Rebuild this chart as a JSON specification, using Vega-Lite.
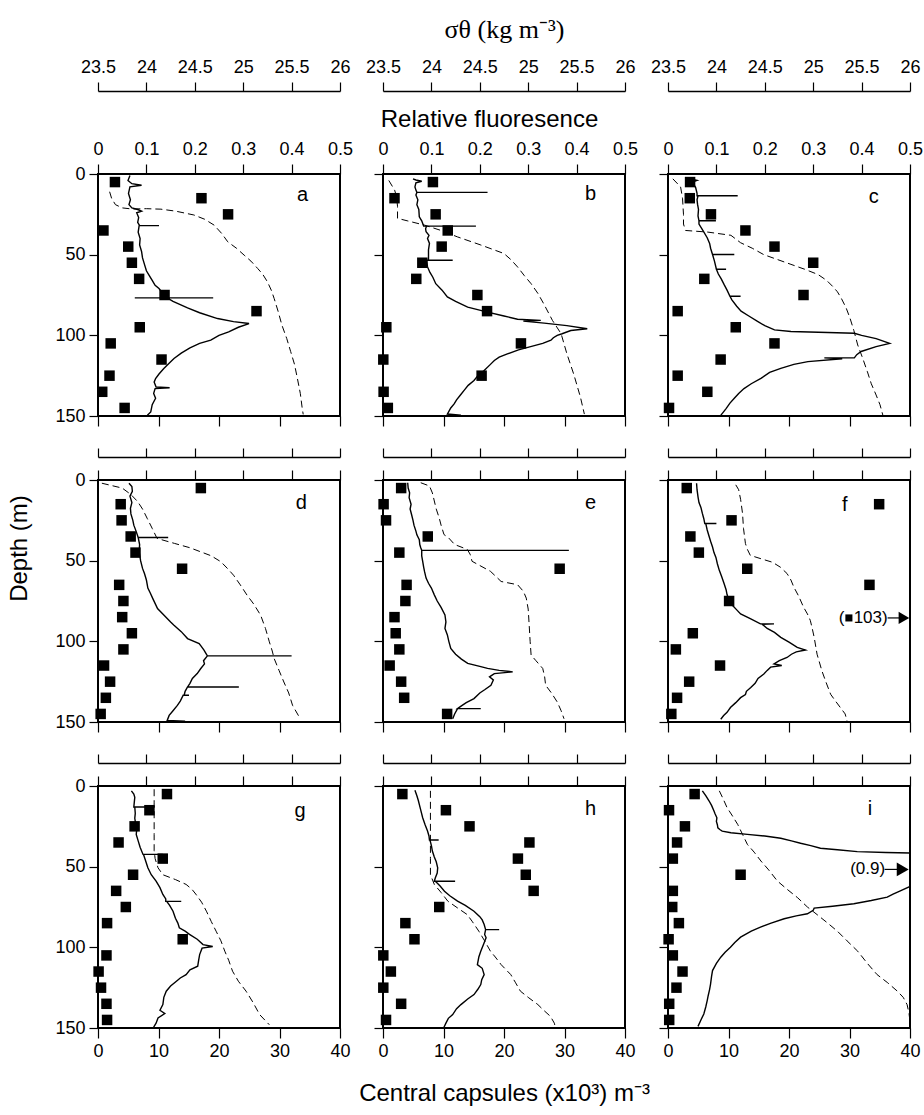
{
"$schema":"https://vega.github.io/schema/vega-lite/v6.json",
"padding":{"left":6,"top":15,"right":0,"bottom":0},
"background":"white",
"config":{
 "view":{"stroke":"black","strokeWidth":2},
 "axis":{"grid":false,"tickColor":"black","domainColor":"black","labelColor":"black","labelFont":"Liberation Sans","labelFontSize":18,"tickWidth":1.2,"labelPadding":4,"titleFont":"Liberation Sans","titleFontSize":24,"titleFontWeight":"normal","titleColor":"black","labelOverlap":false,"labelFlush":false},
 "text":{"font":"Liberation Sans","color":"black"}
},
"datasets":{
"cp_a":[{"d":5,"c":2.8},{"d":15,"c":17.1},{"d":25,"c":21.5},{"d":35,"c":0.9},{"d":45,"c":5.0},{"d":55,"c":5.6},{"d":65,"c":6.8},{"d":75,"c":11.0},{"d":85,"c":26.2},{"d":95,"c":6.9},{"d":105,"c":2.1},{"d":115,"c":10.5},{"d":125,"c":1.9},{"d":135,"c":0.7},{"d":145,"c":4.4}],
"cp_b":[{"d":5,"c":8.25},{"d":15,"c":1.9},{"d":25,"c":8.7},{"d":35,"c":10.7},{"d":45,"c":9.7},{"d":55,"c":6.5},{"d":65,"c":5.5},{"d":75,"c":15.6},{"d":85,"c":17.2},{"d":95,"c":0.55},{"d":105,"c":22.8},{"d":115,"c":0.05},{"d":125,"c":16.3},{"d":135,"c":0.1},{"d":145,"c":0.8}],
"cp_c":[{"d":5,"c":3.65},{"d":15,"c":3.6},{"d":25,"c":7.1},{"d":35,"c":12.8},{"d":45,"c":17.6},{"d":55,"c":24.0},{"d":65,"c":6.0},{"d":75,"c":22.4},{"d":85,"c":1.6},{"d":95,"c":11.2},{"d":105,"c":17.6},{"d":115,"c":8.7},{"d":125,"c":1.6},{"d":135,"c":6.5},{"d":145,"c":0.17}],
"cp_d":[{"d":5,"c":17.0},{"d":15,"c":3.75},{"d":25,"c":3.9},{"d":35,"c":5.4},{"d":45,"c":6.2},{"d":55,"c":13.9},{"d":65,"c":3.5},{"d":75,"c":4.2},{"d":85,"c":4.0},{"d":95,"c":5.6},{"d":105,"c":4.2},{"d":115,"c":1.0},{"d":125,"c":2.0},{"d":135,"c":1.3},{"d":145,"c":0.44}],
"cp_e":[{"d":5,"c":3.0},{"d":15,"c":0.1},{"d":25,"c":0.5},{"d":35,"c":7.4},{"d":45,"c":2.7},{"d":55,"c":29.2},{"d":65,"c":3.9},{"d":75,"c":3.7},{"d":85,"c":1.9},{"d":95,"c":2.1},{"d":105,"c":2.7},{"d":115,"c":1.1},{"d":125,"c":3.0},{"d":135,"c":3.5},{"d":145,"c":10.6}],
"cp_f":[{"d":5,"c":3.1},{"d":15,"c":34.9},{"d":25,"c":10.5},{"d":35,"c":3.7},{"d":45,"c":5.1},{"d":55,"c":13.1},{"d":65,"c":33.3},{"d":75,"c":10.1},{"d":95,"c":4.1},{"d":105,"c":1.3},{"d":115,"c":8.6},{"d":125,"c":3.5},{"d":135,"c":1.5},{"d":145,"c":0.55}],
"cp_g":[{"d":5,"c":11.4},{"d":15,"c":8.5},{"d":25,"c":6.05},{"d":35,"c":3.4},{"d":45,"c":10.7},{"d":55,"c":5.8},{"d":65,"c":3.0},{"d":75,"c":4.6},{"d":85,"c":1.5},{"d":95,"c":14.0},{"d":105,"c":1.4},{"d":115,"c":0.1},{"d":125,"c":0.5},{"d":135,"c":1.4},{"d":145,"c":1.5}],
"cp_h":[{"d":5,"c":3.2},{"d":15,"c":10.4},{"d":25,"c":14.3},{"d":35,"c":24.2},{"d":45,"c":22.3},{"d":55,"c":23.6},{"d":65,"c":24.9},{"d":75,"c":9.3},{"d":85,"c":3.7},{"d":95,"c":5.2},{"d":105,"c":0.05},{"d":115,"c":1.3},{"d":125,"c":0.05},{"d":135,"c":3.0},{"d":145,"c":0.5}],
"cp_i":[{"d":5,"c":4.4},{"d":15,"c":0.17},{"d":25,"c":2.8},{"d":35,"c":1.5},{"d":45,"c":0.8},{"d":55,"c":12.0},{"d":65,"c":0.8},{"d":75,"c":0.7},{"d":85,"c":1.8},{"d":95,"c":0.1},{"d":105,"c":0.8},{"d":115,"c":2.4},{"d":125,"c":1.4},{"d":135,"c":0.2},{"d":145,"c":0.2}],
"fl_a":[{"d":1,"f":0.066},{"d":4,"f":0.062},{"d":6,"f":0.07},{"d":7,"f":0.09},{"d":8,"f":0.066},{"d":12,"f":0.063},{"d":16,"f":0.067},{"d":19,"f":0.064},{"d":21,"f":0.07},{"d":22,"f":0.082},{"d":23,"f":0.09},{"d":24,"f":0.08},{"d":27,"f":0.084},{"d":30,"f":0.082},{"d":32,"f":0.086},{"d":32,"f":0.126},{"d":32,"f":0.085},{"d":36,"f":0.083},{"d":40,"f":0.087},{"d":44,"f":0.086},{"d":48,"f":0.09},{"d":52,"f":0.092},{"d":56,"f":0.096},{"d":60,"f":0.1},{"d":63,"f":0.106},{"d":66,"f":0.112},{"d":69,"f":0.118},{"d":71,"f":0.126},{"d":74,"f":0.134},{"d":76.8,"f":0.14},{"d":76.8,"f":0.238},{"d":76.8,"f":0.076},{"d":76.8,"f":0.143},{"d":79,"f":0.155},{"d":83,"f":0.185},{"d":86,"f":0.21},{"d":89.6,"f":0.247},{"d":91.5,"f":0.28},{"d":92.7,"f":0.312},{"d":95,"f":0.29},{"d":97.9,"f":0.27},{"d":100,"f":0.25},{"d":103,"f":0.233},{"d":105,"f":0.21},{"d":107.8,"f":0.19},{"d":111,"f":0.172},{"d":114.4,"f":0.157},{"d":117,"f":0.148},{"d":120.6,"f":0.136},{"d":124,"f":0.126},{"d":126.8,"f":0.119},{"d":129,"f":0.116},{"d":132,"f":0.12},{"d":132.5,"f":0.148},{"d":133,"f":0.118},{"d":136,"f":0.115},{"d":139,"f":0.119},{"d":143,"f":0.112},{"d":147.5,"f":0.109},{"d":149.6,"f":0.102}],
"sg_a":[{"d":11,"s":23.62},{"d":15,"s":23.64},{"d":19,"s":23.68},{"d":21,"s":23.75},{"d":21.7,"s":23.85},{"d":21.5,"s":24.0},{"d":21.8,"s":24.15},{"d":23,"s":24.3},{"d":25.4,"s":24.49},{"d":28,"s":24.6},{"d":31.7,"s":24.7},{"d":37,"s":24.78},{"d":42,"s":24.84},{"d":46,"s":24.93},{"d":50.3,"s":25.01},{"d":54,"s":25.08},{"d":58.6,"s":25.15},{"d":62,"s":25.2},{"d":66.8,"s":25.25},{"d":72,"s":25.29},{"d":77.2,"s":25.32},{"d":85,"s":25.36},{"d":93.7,"s":25.40},{"d":102,"s":25.45},{"d":110,"s":25.49},{"d":118,"s":25.53},{"d":126.8,"s":25.56},{"d":136,"s":25.59},{"d":145.4,"s":25.61},{"d":149,"s":25.62}],
"fl_b":[{"d":3,"f":0.062},{"d":3.7,"f":0.068},{"d":4.5,"f":0.08},{"d":5.5,"f":0.068},{"d":8,"f":0.066},{"d":10,"f":0.068},{"d":11.4,"f":0.07},{"d":11.4,"f":0.216},{"d":11.4,"f":0.07},{"d":13,"f":0.068},{"d":16,"f":0.072},{"d":19,"f":0.07},{"d":22,"f":0.074},{"d":26.5,"f":0.075},{"d":29,"f":0.08},{"d":32.3,"f":0.084},{"d":32.3,"f":0.192},{"d":32.3,"f":0.09},{"d":34,"f":0.088},{"d":35.8,"f":0.089},{"d":38,"f":0.095},{"d":40,"f":0.092},{"d":43,"f":0.096},{"d":47,"f":0.094},{"d":50,"f":0.094},{"d":53.5,"f":0.094},{"d":53.5,"f":0.144},{"d":53.5,"f":0.09},{"d":57.6,"f":0.092},{"d":61,"f":0.097},{"d":64,"f":0.103},{"d":68,"f":0.109},{"d":72,"f":0.122},{"d":76.2,"f":0.133},{"d":79,"f":0.15},{"d":82.5,"f":0.175},{"d":85.6,"f":0.216},{"d":88,"f":0.25},{"d":90,"f":0.278},{"d":90.7,"f":0.326},{"d":91.2,"f":0.29},{"d":92.4,"f":0.333},{"d":94,"f":0.38},{"d":95.9,"f":0.422},{"d":97,"f":0.388},{"d":99,"f":0.37},{"d":100,"f":0.36},{"d":101.5,"f":0.352},{"d":103,"f":0.347},{"d":105,"f":0.33},{"d":107,"f":0.305},{"d":109,"f":0.28},{"d":111.5,"f":0.257},{"d":113.5,"f":0.24},{"d":115.6,"f":0.23},{"d":118,"f":0.222},{"d":121.8,"f":0.209},{"d":125,"f":0.196},{"d":128,"f":0.188},{"d":131,"f":0.176},{"d":134,"f":0.168},{"d":137,"f":0.16},{"d":140,"f":0.152},{"d":142.5,"f":0.147},{"d":145,"f":0.14},{"d":148.8,"f":0.133},{"d":149.5,"f":0.161}],
"sg_b":[{"d":4,"s":23.56},{"d":10,"s":23.62},{"d":14,"s":23.64},{"d":20,"s":23.65},{"d":27.5,"s":23.65},{"d":29,"s":23.75},{"d":31.7,"s":23.93},{"d":35,"s":24.1},{"d":39,"s":24.27},{"d":44,"s":24.51},{"d":49.3,"s":24.75},{"d":53,"s":24.82},{"d":57.6,"s":24.89},{"d":63,"s":24.96},{"d":68,"s":25.03},{"d":74,"s":25.1},{"d":80.4,"s":25.16},{"d":90.7,"s":25.25},{"d":99,"s":25.34},{"d":111.5,"s":25.40},{"d":124,"s":25.47},{"d":138.4,"s":25.54},{"d":148.8,"s":25.58}],
"fl_c":[{"d":3,"f":0.047},{"d":4,"f":0.06},{"d":5,"f":0.05},{"d":8.3,"f":0.057},{"d":12,"f":0.06},{"d":13.5,"f":0.06},{"d":13.5,"f":0.144},{"d":13.5,"f":0.062},{"d":16,"f":0.06},{"d":18.7,"f":0.061},{"d":22,"f":0.063},{"d":26,"f":0.062},{"d":29,"f":0.064},{"d":29,"f":0.099},{"d":29,"f":0.064},{"d":31,"f":0.064},{"d":35,"f":0.072},{"d":39.5,"f":0.081},{"d":43,"f":0.086},{"d":46,"f":0.088},{"d":49.9,"f":0.092},{"d":49.9,"f":0.137},{"d":49.9,"f":0.092},{"d":54,"f":0.096},{"d":59,"f":0.1},{"d":59,"f":0.12},{"d":59,"f":0.1},{"d":62,"f":0.104},{"d":65,"f":0.11},{"d":68.6,"f":0.116},{"d":72,"f":0.122},{"d":75.8,"f":0.128},{"d":75.8,"f":0.15},{"d":75.8,"f":0.128},{"d":78,"f":0.132},{"d":82,"f":0.142},{"d":85,"f":0.151},{"d":88,"f":0.167},{"d":91.4,"f":0.185},{"d":94,"f":0.2},{"d":96.6,"f":0.22},{"d":97.6,"f":0.254},{"d":98.2,"f":0.33},{"d":98.7,"f":0.385},{"d":100,"f":0.4},{"d":102,"f":0.43},{"d":105,"f":0.458},{"d":107,"f":0.43},{"d":110,"f":0.399},{"d":112,"f":0.39},{"d":114,"f":0.385},{"d":114,"f":0.323},{"d":114.5,"f":0.36},{"d":116.3,"f":0.289},{"d":118,"f":0.26},{"d":120.5,"f":0.233},{"d":123,"f":0.21},{"d":126.7,"f":0.192},{"d":130,"f":0.172},{"d":133,"f":0.157},{"d":136,"f":0.146},{"d":139,"f":0.137},{"d":142,"f":0.128},{"d":145.4,"f":0.12},{"d":149.6,"f":0.109}],
"sg_c":[{"d":3,"s":23.55},{"d":8,"s":23.63},{"d":15,"s":23.65},{"d":25,"s":23.66},{"d":31,"s":23.66},{"d":35,"s":23.68},{"d":36,"s":23.91},{"d":38,"s":24.15},{"d":42.6,"s":24.25},{"d":46,"s":24.37},{"d":50,"s":24.49},{"d":53,"s":24.63},{"d":56,"s":24.77},{"d":59,"s":24.91},{"d":62.3,"s":25.05},{"d":66,"s":25.14},{"d":69.6,"s":25.20},{"d":73,"s":25.25},{"d":77,"s":25.29},{"d":83,"s":25.34},{"d":89.3,"s":25.38},{"d":97,"s":25.42},{"d":106,"s":25.46},{"d":114,"s":25.51},{"d":122.6,"s":25.56},{"d":130,"s":25.6},{"d":137,"s":25.65},{"d":143,"s":25.69},{"d":149.6,"s":25.72}],
"fl_d":[{"d":2,"f":0.064},{"d":4,"f":0.07},{"d":7,"f":0.071},{"d":10,"f":0.066},{"d":14,"f":0.07},{"d":17.6,"f":0.067},{"d":21,"f":0.068},{"d":25,"f":0.072},{"d":28,"f":0.074},{"d":32,"f":0.079},{"d":35.6,"f":0.083},{"d":35.6,"f":0.145},{"d":35.6,"f":0.083},{"d":40,"f":0.086},{"d":44.5,"f":0.085},{"d":50,"f":0.088},{"d":54.8,"f":0.092},{"d":58,"f":0.096},{"d":62,"f":0.1},{"d":67,"f":0.103},{"d":70,"f":0.108},{"d":74,"f":0.114},{"d":79.7,"f":0.123},{"d":84,"f":0.137},{"d":88,"f":0.15},{"d":90,"f":0.157},{"d":94,"f":0.172},{"d":98.3,"f":0.185},{"d":101.4,"f":0.209},{"d":103,"f":0.213},{"d":105.5,"f":0.219},{"d":107,"f":0.222},{"d":109,"f":0.226},{"d":109,"f":0.4},{"d":109,"f":0.226},{"d":112,"f":0.218},{"d":114,"f":0.22},{"d":117,"f":0.212},{"d":120,"f":0.205},{"d":123,"f":0.195},{"d":126,"f":0.19},{"d":128.3,"f":0.185},{"d":128.3,"f":0.291},{"d":128.3,"f":0.185},{"d":131,"f":0.18},{"d":133.4,"f":0.178},{"d":133.4,"f":0.188},{"d":133.4,"f":0.176},{"d":137,"f":0.17},{"d":139.7,"f":0.164},{"d":143,"f":0.155},{"d":145.9,"f":0.147},{"d":149,"f":0.143},{"d":149.5,"f":0.18}],
"sg_d":[{"d":2,"s":23.54},{"d":3,"s":23.61},{"d":5,"s":23.75},{"d":9,"s":23.84},{"d":13.4,"s":23.91},{"d":18,"s":23.96},{"d":24,"s":24.01},{"d":30,"s":24.06},{"d":36.2,"s":24.11},{"d":39.3,"s":24.29},{"d":42,"s":24.45},{"d":44.5,"s":24.56},{"d":47,"s":24.67},{"d":50.7,"s":24.77},{"d":55,"s":24.84},{"d":59,"s":24.90},{"d":65,"s":24.97},{"d":71.4,"s":25.04},{"d":77,"s":25.11},{"d":83.8,"s":25.18},{"d":92,"s":25.23},{"d":100.3,"s":25.27},{"d":106,"s":25.3},{"d":110.7,"s":25.32},{"d":118,"s":25.37},{"d":125.2,"s":25.42},{"d":132,"s":25.47},{"d":139.7,"s":25.51},{"d":147,"s":25.58}],
"fl_e":[{"d":1.7,"f":0.051},{"d":5,"f":0.052},{"d":8,"f":0.055},{"d":11,"f":0.054},{"d":15,"f":0.058},{"d":18,"f":0.056},{"d":21.4,"f":0.059},{"d":25,"f":0.062},{"d":28,"f":0.064},{"d":31.7,"f":0.068},{"d":34,"f":0.07},{"d":37,"f":0.075},{"d":40,"f":0.076},{"d":42,"f":0.078},{"d":43.6,"f":0.08},{"d":43.6,"f":0.384},{"d":43.6,"f":0.08},{"d":47,"f":0.08},{"d":50.4,"f":0.082},{"d":54,"f":0.084},{"d":57,"f":0.086},{"d":60.8,"f":0.089},{"d":64,"f":0.094},{"d":67,"f":0.1},{"d":71.2,"f":0.106},{"d":75,"f":0.112},{"d":79,"f":0.12},{"d":83.6,"f":0.128},{"d":88,"f":0.13},{"d":92,"f":0.128},{"d":96,"f":0.133},{"d":100,"f":0.136},{"d":104.4,"f":0.14},{"d":108,"f":0.15},{"d":111,"f":0.162},{"d":113.7,"f":0.175},{"d":115.5,"f":0.2},{"d":116.8,"f":0.216},{"d":118,"f":0.24},{"d":118.9,"f":0.268},{"d":120,"f":0.23},{"d":122,"f":0.22},{"d":124,"f":0.228},{"d":127.2,"f":0.223},{"d":130,"f":0.21},{"d":132,"f":0.2},{"d":135.5,"f":0.188},{"d":138,"f":0.172},{"d":140,"f":0.162},{"d":141.7,"f":0.154},{"d":141.7,"f":0.202},{"d":141.7,"f":0.154},{"d":145,"f":0.148},{"d":148,"f":0.144}],
"sg_e":[{"d":1.7,"s":23.89},{"d":3.7,"s":23.98},{"d":8,"s":24.01},{"d":13,"s":24.03},{"d":18,"s":24.05},{"d":23.4,"s":24.08},{"d":28,"s":24.1},{"d":33.8,"s":24.13},{"d":36,"s":24.18},{"d":40,"s":24.24},{"d":43,"s":24.37},{"d":46,"s":24.4},{"d":50.4,"s":24.42},{"d":53,"s":24.5},{"d":56.6,"s":24.61},{"d":60,"s":24.67},{"d":62.9,"s":24.72},{"d":64.9,"s":24.89},{"d":69,"s":24.95},{"d":73.2,"s":24.98},{"d":80,"s":25.0},{"d":89.8,"s":25.01},{"d":100,"s":25.02},{"d":108.5,"s":25.03},{"d":112,"s":25.08},{"d":116.8,"s":25.15},{"d":122,"s":25.17},{"d":127.2,"s":25.18},{"d":132,"s":25.24},{"d":137.6,"s":25.30},{"d":143,"s":25.34},{"d":148,"s":25.37}],
"fl_f":[{"d":2,"f":0.059},{"d":6,"f":0.06},{"d":10.4,"f":0.062},{"d":14,"f":0.064},{"d":17,"f":0.068},{"d":20.7,"f":0.071},{"d":24,"f":0.074},{"d":27,"f":0.076},{"d":27,"f":0.1},{"d":27,"f":0.078},{"d":31,"f":0.081},{"d":35,"f":0.085},{"d":38,"f":0.088},{"d":41.5,"f":0.092},{"d":45,"f":0.095},{"d":48,"f":0.099},{"d":51.9,"f":0.102},{"d":56,"f":0.106},{"d":60,"f":0.111},{"d":64.3,"f":0.116},{"d":68,"f":0.12},{"d":71,"f":0.122},{"d":74.7,"f":0.126},{"d":78,"f":0.134},{"d":80.5,"f":0.142},{"d":83,"f":0.15},{"d":86,"f":0.17},{"d":89.2,"f":0.191},{"d":89.2,"f":0.219},{"d":89.5,"f":0.195},{"d":92,"f":0.205},{"d":94.5,"f":0.22},{"d":97.5,"f":0.233},{"d":100.5,"f":0.25},{"d":103.7,"f":0.267},{"d":105.4,"f":0.284},{"d":106.5,"f":0.265},{"d":108,"f":0.255},{"d":110,"f":0.246},{"d":112,"f":0.23},{"d":114,"f":0.219},{"d":115,"f":0.235},{"d":116,"f":0.212},{"d":118,"f":0.205},{"d":120.3,"f":0.198},{"d":123,"f":0.186},{"d":126,"f":0.18},{"d":128.6,"f":0.171},{"d":131,"f":0.162},{"d":133,"f":0.16},{"d":134.9,"f":0.15},{"d":138,"f":0.14},{"d":141,"f":0.129},{"d":144,"f":0.122},{"d":146,"f":0.115},{"d":148.3,"f":0.109}],
"sg_f":[{"d":3,"s":24.20},{"d":6,"s":24.23},{"d":12,"s":24.25},{"d":20.7,"s":24.27},{"d":30,"s":24.28},{"d":39.4,"s":24.30},{"d":43,"s":24.32},{"d":46.7,"s":24.35},{"d":48.8,"s":24.46},{"d":51,"s":24.58},{"d":54,"s":24.66},{"d":58,"s":24.73},{"d":62,"s":24.77},{"d":66.4,"s":24.80},{"d":72,"s":24.85},{"d":78.8,"s":24.90},{"d":83,"s":24.94},{"d":87,"s":24.97},{"d":92,"s":24.99},{"d":97.5,"s":25.01},{"d":108,"s":25.04},{"d":118.3,"s":25.09},{"d":125,"s":25.13},{"d":132.8,"s":25.18},{"d":137,"s":25.23},{"d":141,"s":25.28},{"d":145,"s":25.33},{"d":149.4,"s":25.35}],
"fl_g":[{"d":3,"f":0.069},{"d":5,"f":0.074},{"d":7,"f":0.076},{"d":10,"f":0.075},{"d":13,"f":0.074},{"d":13,"f":0.117},{"d":13,"f":0.076},{"d":17,"f":0.077},{"d":20,"f":0.076},{"d":23.8,"f":0.078},{"d":27,"f":0.08},{"d":30,"f":0.079},{"d":34,"f":0.083},{"d":38,"f":0.087},{"d":42.4,"f":0.093},{"d":42.4,"f":0.134},{"d":42.4,"f":0.094},{"d":46,"f":0.098},{"d":50.7,"f":0.103},{"d":55,"f":0.11},{"d":59,"f":0.12},{"d":63,"f":0.128},{"d":67.2,"f":0.134},{"d":70,"f":0.14},{"d":71.5,"f":0.14},{"d":71.5,"f":0.172},{"d":71.5,"f":0.142},{"d":74,"f":0.148},{"d":77.6,"f":0.155},{"d":82,"f":0.16},{"d":85,"f":0.165},{"d":87.9,"f":0.168},{"d":90,"f":0.18},{"d":92,"f":0.189},{"d":95,"f":0.205},{"d":98.3,"f":0.217},{"d":99.5,"f":0.237},{"d":100.5,"f":0.215},{"d":104.5,"f":0.21},{"d":108,"f":0.208},{"d":111.7,"f":0.206},{"d":114,"f":0.19},{"d":116.9,"f":0.182},{"d":119,"f":0.17},{"d":121,"f":0.162},{"d":124,"f":0.15},{"d":127.2,"f":0.141},{"d":131,"f":0.136},{"d":135.5,"f":0.134},{"d":139,"f":0.128},{"d":141,"f":0.138},{"d":143.8,"f":0.124},{"d":147,"f":0.12},{"d":149.5,"f":0.115}],
"sg_g":[{"d":2,"s":24.08},{"d":10,"s":24.08},{"d":20,"s":24.08},{"d":30,"s":24.08},{"d":40,"s":24.08},{"d":45,"s":24.09},{"d":50.7,"s":24.12},{"d":55,"s":24.17},{"d":58,"s":24.3},{"d":61,"s":24.41},{"d":64,"s":24.47},{"d":67,"s":24.51},{"d":72,"s":24.57},{"d":77.6,"s":24.62},{"d":84,"s":24.67},{"d":90,"s":24.72},{"d":96,"s":24.77},{"d":102.4,"s":24.81},{"d":108,"s":24.85},{"d":114.8,"s":24.89},{"d":121,"s":24.95},{"d":127.2,"s":25.03},{"d":134,"s":25.1},{"d":141.7,"s":25.17},{"d":148,"s":25.27}],
"fl_h":[{"d":2.7,"f":0.066},{"d":6,"f":0.07},{"d":9,"f":0.073},{"d":11.4,"f":0.075},{"d":15,"f":0.078},{"d":19.7,"f":0.082},{"d":24,"f":0.087},{"d":27.9,"f":0.092},{"d":31,"f":0.095},{"d":33.5,"f":0.096},{"d":33.5,"f":0.115},{"d":33.5,"f":0.097},{"d":37,"f":0.1},{"d":40.3,"f":0.102},{"d":44,"f":0.106},{"d":47,"f":0.11},{"d":50.7,"f":0.113},{"d":54,"f":0.112},{"d":57,"f":0.108},{"d":59,"f":0.106},{"d":59,"f":0.149},{"d":59,"f":0.108},{"d":62,"f":0.118},{"d":65.2,"f":0.127},{"d":68,"f":0.138},{"d":71.4,"f":0.154},{"d":74,"f":0.17},{"d":77.6,"f":0.188},{"d":81,"f":0.2},{"d":83,"f":0.205},{"d":85.9,"f":0.209},{"d":89,"f":0.212},{"d":89,"f":0.24},{"d":89,"f":0.212},{"d":92,"f":0.21},{"d":94.1,"f":0.213},{"d":98,"f":0.208},{"d":102.4,"f":0.202},{"d":106,"f":0.198},{"d":110.7,"f":0.195},{"d":113,"f":0.205},{"d":116.9,"f":0.209},{"d":120,"f":0.204},{"d":123.1,"f":0.202},{"d":126,"f":0.196},{"d":129.3,"f":0.188},{"d":132,"f":0.175},{"d":135.5,"f":0.161},{"d":138,"f":0.152},{"d":141.7,"f":0.144},{"d":144,"f":0.135},{"d":147,"f":0.13},{"d":149.5,"f":0.126}],
"sg_h":[{"d":3,"s":23.99},{"d":15,"s":23.99},{"d":30,"s":23.99},{"d":45,"s":23.99},{"d":55,"s":23.99},{"d":61,"s":24.03},{"d":66,"s":24.1},{"d":71.4,"s":24.17},{"d":76,"s":24.28},{"d":79.7,"s":24.37},{"d":83.8,"s":24.42},{"d":90,"s":24.49},{"d":96,"s":24.55},{"d":102.4,"s":24.61},{"d":106,"s":24.66},{"d":110.7,"s":24.72},{"d":116.9,"s":24.82},{"d":122,"s":24.87},{"d":127.2,"s":24.92},{"d":131,"s":25.0},{"d":135.5,"s":25.10},{"d":139,"s":25.16},{"d":142.8,"s":25.23},{"d":147,"s":25.27},{"d":149.5,"s":25.28}],
"fl_i":[{"d":3,"f":0.071},{"d":6,"f":0.078},{"d":9.3,"f":0.085},{"d":12,"f":0.09},{"d":15.5,"f":0.095},{"d":17,"f":0.097},{"d":19.7,"f":0.101},{"d":22,"f":0.1},{"d":24,"f":0.102},{"d":25.9,"f":0.103},{"d":27,"f":0.107},{"d":28,"f":0.112},{"d":29,"f":0.13},{"d":30,"f":0.164},{"d":31,"f":0.2},{"d":32.4,"f":0.233},{"d":34,"f":0.255},{"d":35.5,"f":0.274},{"d":37,"f":0.295},{"d":38.6,"f":0.315},{"d":39.5,"f":0.35},{"d":40.7,"f":0.391},{"d":41.2,"f":0.45},{"d":41.5,"f":0.5},{"d":52,"f":0.9},{"d":62.3,"f":0.5},{"d":65,"f":0.48},{"d":67,"f":0.465},{"d":68.9,"f":0.453},{"d":71,"f":0.42},{"d":73,"f":0.384},{"d":74.5,"f":0.34},{"d":75.7,"f":0.302},{"d":77,"f":0.3},{"d":79.2,"f":0.288},{"d":80.5,"f":0.265},{"d":82.3,"f":0.24},{"d":85,"f":0.213},{"d":87.5,"f":0.191},{"d":90,"f":0.172},{"d":93.7,"f":0.15},{"d":97,"f":0.138},{"d":99.9,"f":0.129},{"d":103,"f":0.118},{"d":106.1,"f":0.109},{"d":110,"f":0.1},{"d":114.4,"f":0.092},{"d":118,"f":0.09},{"d":122.6,"f":0.088},{"d":126,"f":0.086},{"d":130,"f":0.083},{"d":133,"f":0.081},{"d":137,"f":0.078},{"d":141.3,"f":0.074},{"d":145,"f":0.068},{"d":149,"f":0.062}],
"sg_i":[{"d":3,"s":24.03},{"d":8,"s":24.07},{"d":13.4,"s":24.11},{"d":18,"s":24.16},{"d":23.8,"s":24.22},{"d":30,"s":24.27},{"d":36.2,"s":24.32},{"d":41,"s":24.39},{"d":46.5,"s":24.46},{"d":52,"s":24.54},{"d":58.9,"s":24.63},{"d":64,"s":24.73},{"d":69.3,"s":24.84},{"d":75,"s":24.94},{"d":79.7,"s":25.04},{"d":85,"s":25.15},{"d":90,"s":25.25},{"d":96,"s":25.35},{"d":102.4,"s":25.46},{"d":110,"s":25.56},{"d":116.9,"s":25.66},{"d":122,"s":25.77},{"d":127.2,"s":25.87},{"d":131,"s":25.93},{"d":135.5,"s":25.97},{"d":141,"s":25.99},{"d":146,"s":26.0}]
},
"columns":3,
"spacing":{"row":64,"column":43},
"bounds":"flush",
"concat":[
 {"width":242,"height":242,"layer":[
  {"data":{"name":"sg_a"},"mark":{"type":"line","color":"black","strokeWidth":1,"strokeDash":[7,4]},"encoding":{"x":{"field":"s","type":"quantitative","scale":{"domain":[23.5,26],"nice":false,"zero":false},"axis":{"orient":"top","offset":83,"values":[23.5,24,24.5,25,25.5,26],"format":"~g","tickSize":9,"domainWidth":1.5,"labelPadding":6,"title":null}},"y":{"field":"d","type":"quantitative","scale":{"domain":[0,150],"reverse":true,"nice":false,"zero":false},"axis":{"values":[0,50,100,150],"tickSize":9,"domain":false,"title":null}},"order":{"value":null}}},
  {"data":{"name":"fl_a"},"mark":{"type":"line","color":"black","strokeWidth":1.4},"encoding":{"x":{"field":"f","type":"quantitative","scale":{"domain":[0,0.5],"nice":false,"zero":false},"axis":{"orient":"top","values":[0,0.1,0.2,0.3,0.4,0.5],"format":"~g","tickSize":10,"domain":false,"labelPadding":6,"title":null}},"y":{"field":"d","type":"quantitative","scale":{"domain":[0,150],"reverse":true,"nice":false,"zero":false},"axis":{"values":[0,50,100,150],"tickSize":9,"domain":false,"title":null}},"order":{"value":null}}},
  {"data":{"name":"cp_a"},"mark":{"type":"point","shape":"square","filled":true,"size":110,"color":"black","opacity":1},"encoding":{"x":{"field":"c","type":"quantitative","scale":{"domain":[0,40],"nice":false,"zero":false},"axis":{"orient":"bottom","values":[0,10,20,30,40],"tickSize":10,"domain":false,"labels":false,"title":null}},"y":{"field":"d","type":"quantitative","scale":{"domain":[0,150],"reverse":true,"nice":false,"zero":false},"axis":{"values":[0,50,100,150],"tickSize":9,"domain":false,"title":null}}}},
  {"data":{"values":[{"c":33.8,"d":13,"t":"a"}]},"mark":{"type":"text","fontSize":20},"encoding":{"x":{"field":"c","type":"quantitative","scale":{"domain":[0,40],"nice":false,"zero":false},"axis":null},"y":{"field":"d","type":"quantitative","scale":{"domain":[0,150],"reverse":true,"nice":false,"zero":false},"axis":{"values":[0,50,100,150],"tickSize":9,"domain":false,"title":null}},"text":{"field":"t"}}}
 ],"resolve":{"scale":{"x":"independent"}}},
 {"width":242,"height":242,"layer":[
  {"data":{"name":"sg_b"},"mark":{"type":"line","color":"black","strokeWidth":1,"strokeDash":[7,4]},"encoding":{"x":{"field":"s","type":"quantitative","scale":{"domain":[23.5,26],"nice":false,"zero":false},"axis":{"orient":"top","offset":83,"values":[23.5,24,24.5,25,25.5,26],"format":"~g","tickSize":9,"domainWidth":1.5,"labelPadding":6,"title":"σθ (kg m⁻³)","titleFont":"Liberation Serif","titleFontSize":26,"titleBaseline":"middle","titleY":-62}},"y":{"field":"d","type":"quantitative","scale":{"domain":[0,150],"reverse":true,"nice":false,"zero":false},"axis":{"values":[0,50,100,150],"tickSize":9,"domain":false,"labels":false,"title":null}},"order":{"value":null}}},
  {"data":{"name":"fl_b"},"mark":{"type":"line","color":"black","strokeWidth":1.4},"encoding":{"x":{"field":"f","type":"quantitative","scale":{"domain":[0,0.5],"nice":false,"zero":false},"axis":{"orient":"top","values":[0,0.1,0.2,0.3,0.4,0.5],"format":"~g","tickSize":10,"domain":false,"labelPadding":6,"title":"Relative fluoresence","titleBaseline":"middle","titleX":106,"titleY":-55}},"y":{"field":"d","type":"quantitative","scale":{"domain":[0,150],"reverse":true,"nice":false,"zero":false},"axis":{"values":[0,50,100,150],"tickSize":9,"domain":false,"labels":false,"title":null}},"order":{"value":null}}},
  {"data":{"name":"cp_b"},"mark":{"type":"point","shape":"square","filled":true,"size":110,"color":"black","opacity":1},"encoding":{"x":{"field":"c","type":"quantitative","scale":{"domain":[0,40],"nice":false,"zero":false},"axis":{"orient":"bottom","values":[0,10,20,30,40],"tickSize":10,"domain":false,"labels":false,"title":null}},"y":{"field":"d","type":"quantitative","scale":{"domain":[0,150],"reverse":true,"nice":false,"zero":false},"axis":{"values":[0,50,100,150],"tickSize":9,"domain":false,"labels":false,"title":null}}}},
  {"data":{"values":[{"c":34.3,"d":12.5,"t":"b"}]},"mark":{"type":"text","fontSize":20},"encoding":{"x":{"field":"c","type":"quantitative","scale":{"domain":[0,40],"nice":false,"zero":false},"axis":null},"y":{"field":"d","type":"quantitative","scale":{"domain":[0,150],"reverse":true,"nice":false,"zero":false},"axis":{"values":[0,50,100,150],"tickSize":9,"domain":false,"labels":false,"title":null}},"text":{"field":"t"}}}
 ],"resolve":{"scale":{"x":"independent"}}},
 {"width":242,"height":242,"layer":[
  {"data":{"name":"sg_c"},"mark":{"type":"line","color":"black","strokeWidth":1,"strokeDash":[7,4]},"encoding":{"x":{"field":"s","type":"quantitative","scale":{"domain":[23.5,26],"nice":false,"zero":false},"axis":{"orient":"top","offset":83,"values":[23.5,24,24.5,25,25.5,26],"format":"~g","tickSize":9,"domainWidth":1.5,"labelPadding":6,"title":null}},"y":{"field":"d","type":"quantitative","scale":{"domain":[0,150],"reverse":true,"nice":false,"zero":false},"axis":{"values":[0,50,100,150],"tickSize":9,"domain":false,"labels":false,"title":null}},"order":{"value":null}}},
  {"data":{"name":"fl_c"},"mark":{"type":"line","color":"black","strokeWidth":1.4},"encoding":{"x":{"field":"f","type":"quantitative","scale":{"domain":[0,0.5],"nice":false,"zero":false},"axis":{"orient":"top","values":[0,0.1,0.2,0.3,0.4,0.5],"format":"~g","tickSize":10,"domain":false,"labelPadding":6,"title":null}},"y":{"field":"d","type":"quantitative","scale":{"domain":[0,150],"reverse":true,"nice":false,"zero":false},"axis":{"values":[0,50,100,150],"tickSize":9,"domain":false,"labels":false,"title":null}},"order":{"value":null}}},
  {"data":{"name":"cp_c"},"mark":{"type":"point","shape":"square","filled":true,"size":110,"color":"black","opacity":1},"encoding":{"x":{"field":"c","type":"quantitative","scale":{"domain":[0,40],"nice":false,"zero":false},"axis":{"orient":"bottom","values":[0,10,20,30,40],"tickSize":10,"domain":false,"labels":false,"title":null}},"y":{"field":"d","type":"quantitative","scale":{"domain":[0,150],"reverse":true,"nice":false,"zero":false},"axis":{"values":[0,50,100,150],"tickSize":9,"domain":false,"labels":false,"title":null}}}},
  {"data":{"values":[{"c":34,"d":14.5,"t":"c"}]},"mark":{"type":"text","fontSize":20},"encoding":{"x":{"field":"c","type":"quantitative","scale":{"domain":[0,40],"nice":false,"zero":false},"axis":null},"y":{"field":"d","type":"quantitative","scale":{"domain":[0,150],"reverse":true,"nice":false,"zero":false},"axis":{"values":[0,50,100,150],"tickSize":9,"domain":false,"labels":false,"title":null}},"text":{"field":"t"}}}
 ],"resolve":{"scale":{"x":"independent"}}},
 {"width":242,"height":242,"layer":[
  {"data":{"name":"sg_d"},"mark":{"type":"line","color":"black","strokeWidth":1,"strokeDash":[7,4]},"encoding":{"x":{"field":"s","type":"quantitative","scale":{"domain":[23.5,26],"nice":false,"zero":false},"axis":{"orient":"top","offset":23,"values":[23.5,24,24.5,25,25.5,26],"labels":false,"tickSize":9,"domainWidth":1.5,"title":null}},"y":{"field":"d","type":"quantitative","scale":{"domain":[0,150],"reverse":true,"nice":false,"zero":false},"axis":{"values":[0,50,100,150],"tickSize":9,"domain":false,"title":"Depth (m)","titleBaseline":"middle","titleX":-79,"titleY":68}},"order":{"value":null}}},
  {"data":{"name":"fl_d"},"mark":{"type":"line","color":"black","strokeWidth":1.4},"encoding":{"x":{"field":"f","type":"quantitative","scale":{"domain":[0,0.5],"nice":false,"zero":false},"axis":{"orient":"top","values":[0,0.1,0.2,0.3,0.4,0.5],"labels":false,"tickSize":10,"domain":false,"title":null}},"y":{"field":"d","type":"quantitative","scale":{"domain":[0,150],"reverse":true,"nice":false,"zero":false},"axis":{"values":[0,50,100,150],"tickSize":9,"domain":false,"title":"Depth (m)","titleBaseline":"middle","titleX":-79,"titleY":68}},"order":{"value":null}}},
  {"data":{"name":"cp_d"},"mark":{"type":"point","shape":"square","filled":true,"size":110,"color":"black","opacity":1},"encoding":{"x":{"field":"c","type":"quantitative","scale":{"domain":[0,40],"nice":false,"zero":false},"axis":{"orient":"bottom","values":[0,10,20,30,40],"tickSize":10,"domain":false,"labels":false,"title":null}},"y":{"field":"d","type":"quantitative","scale":{"domain":[0,150],"reverse":true,"nice":false,"zero":false},"axis":{"values":[0,50,100,150],"tickSize":9,"domain":false,"title":"Depth (m)","titleBaseline":"middle","titleX":-79,"titleY":68}}}},
  {"data":{"values":[{"c":33.6,"d":14,"t":"d"}]},"mark":{"type":"text","fontSize":20},"encoding":{"x":{"field":"c","type":"quantitative","scale":{"domain":[0,40],"nice":false,"zero":false},"axis":null},"y":{"field":"d","type":"quantitative","scale":{"domain":[0,150],"reverse":true,"nice":false,"zero":false},"axis":{"values":[0,50,100,150],"tickSize":9,"domain":false,"title":"Depth (m)","titleBaseline":"middle","titleX":-79,"titleY":68}},"text":{"field":"t"}}}
 ],"resolve":{"scale":{"x":"independent"}}},
 {"width":242,"height":242,"layer":[
  {"data":{"name":"sg_e"},"mark":{"type":"line","color":"black","strokeWidth":1,"strokeDash":[7,4]},"encoding":{"x":{"field":"s","type":"quantitative","scale":{"domain":[23.5,26],"nice":false,"zero":false},"axis":{"orient":"top","offset":23,"values":[23.5,24,24.5,25,25.5,26],"labels":false,"tickSize":9,"domainWidth":1.5,"title":null}},"y":{"field":"d","type":"quantitative","scale":{"domain":[0,150],"reverse":true,"nice":false,"zero":false},"axis":{"values":[0,50,100,150],"tickSize":9,"domain":false,"labels":false,"title":null}},"order":{"value":null}}},
  {"data":{"name":"fl_e"},"mark":{"type":"line","color":"black","strokeWidth":1.4},"encoding":{"x":{"field":"f","type":"quantitative","scale":{"domain":[0,0.5],"nice":false,"zero":false},"axis":{"orient":"top","values":[0,0.1,0.2,0.3,0.4,0.5],"labels":false,"tickSize":10,"domain":false,"title":null}},"y":{"field":"d","type":"quantitative","scale":{"domain":[0,150],"reverse":true,"nice":false,"zero":false},"axis":{"values":[0,50,100,150],"tickSize":9,"domain":false,"labels":false,"title":null}},"order":{"value":null}}},
  {"data":{"name":"cp_e"},"mark":{"type":"point","shape":"square","filled":true,"size":110,"color":"black","opacity":1},"encoding":{"x":{"field":"c","type":"quantitative","scale":{"domain":[0,40],"nice":false,"zero":false},"axis":{"orient":"bottom","values":[0,10,20,30,40],"tickSize":10,"domain":false,"labels":false,"title":null}},"y":{"field":"d","type":"quantitative","scale":{"domain":[0,150],"reverse":true,"nice":false,"zero":false},"axis":{"values":[0,50,100,150],"tickSize":9,"domain":false,"labels":false,"title":null}}}},
  {"data":{"values":[{"c":34.3,"d":14,"t":"e"}]},"mark":{"type":"text","fontSize":20},"encoding":{"x":{"field":"c","type":"quantitative","scale":{"domain":[0,40],"nice":false,"zero":false},"axis":null},"y":{"field":"d","type":"quantitative","scale":{"domain":[0,150],"reverse":true,"nice":false,"zero":false},"axis":{"values":[0,50,100,150],"tickSize":9,"domain":false,"labels":false,"title":null}},"text":{"field":"t"}}}
 ],"resolve":{"scale":{"x":"independent"}}},
 {"width":242,"height":242,"layer":[
  {"data":{"name":"sg_f"},"mark":{"type":"line","color":"black","strokeWidth":1,"strokeDash":[7,4]},"encoding":{"x":{"field":"s","type":"quantitative","scale":{"domain":[23.5,26],"nice":false,"zero":false},"axis":{"orient":"top","offset":23,"values":[23.5,24,24.5,25,25.5,26],"labels":false,"tickSize":9,"domainWidth":1.5,"title":null}},"y":{"field":"d","type":"quantitative","scale":{"domain":[0,150],"reverse":true,"nice":false,"zero":false},"axis":{"values":[0,50,100,150],"tickSize":9,"domain":false,"labels":false,"title":null}},"order":{"value":null}}},
  {"data":{"name":"fl_f"},"mark":{"type":"line","color":"black","strokeWidth":1.4},"encoding":{"x":{"field":"f","type":"quantitative","scale":{"domain":[0,0.5],"nice":false,"zero":false},"axis":{"orient":"top","values":[0,0.1,0.2,0.3,0.4,0.5],"labels":false,"tickSize":10,"domain":false,"title":null}},"y":{"field":"d","type":"quantitative","scale":{"domain":[0,150],"reverse":true,"nice":false,"zero":false},"axis":{"values":[0,50,100,150],"tickSize":9,"domain":false,"labels":false,"title":null}},"order":{"value":null}}},
  {"data":{"name":"cp_f"},"mark":{"type":"point","shape":"square","filled":true,"size":110,"color":"black","opacity":1},"encoding":{"x":{"field":"c","type":"quantitative","scale":{"domain":[0,40],"nice":false,"zero":false},"axis":{"orient":"bottom","values":[0,10,20,30,40],"tickSize":10,"domain":false,"labels":false,"title":null}},"y":{"field":"d","type":"quantitative","scale":{"domain":[0,150],"reverse":true,"nice":false,"zero":false},"axis":{"values":[0,50,100,150],"tickSize":9,"domain":false,"labels":false,"title":null}}}},
  {"data":{"values":[{"c":29.2,"d":15.6,"t":"f"},{"c":28.7,"d":85.5,"t":"("},{"c":33.5,"d":85.5,"t":"103)"}]},"mark":{"type":"text","fontSize":20},"encoding":{"x":{"field":"c","type":"quantitative","scale":{"domain":[0,40],"nice":false,"zero":false},"axis":null},"y":{"field":"d","type":"quantitative","scale":{"domain":[0,150],"reverse":true,"nice":false,"zero":false},"axis":{"values":[0,50,100,150],"tickSize":9,"domain":false,"labels":false,"title":null}},"text":{"field":"t"},"size":{"condition":{"test":"datum.t=='f'","value":20},"value":17}}},
  {"data":{"values":[{"c":29.9,"d":85.5}]},"mark":{"type":"point","shape":"square","filled":true,"size":50,"color":"black","opacity":1},"encoding":{"x":{"field":"c","type":"quantitative","scale":{"domain":[0,40],"nice":false,"zero":false},"axis":null},"y":{"field":"d","type":"quantitative","scale":{"domain":[0,150],"reverse":true,"nice":false,"zero":false},"axis":{"values":[0,50,100,150],"tickSize":9,"domain":false,"labels":false,"title":null}}}},
  {"data":{"values":[{"c":36.3,"c2":38.6,"d":85.5}]},"mark":{"type":"rule","color":"black","strokeWidth":1.2},"encoding":{"x":{"field":"c","type":"quantitative","scale":{"domain":[0,40],"nice":false,"zero":false},"axis":null},"x2":{"field":"c2"},"y":{"field":"d","type":"quantitative","scale":{"domain":[0,150],"reverse":true,"nice":false,"zero":false},"axis":{"values":[0,50,100,150],"tickSize":9,"domain":false,"labels":false,"title":null}}}},
  {"data":{"values":[{"c":39.0,"d":85.5}]},"mark":{"type":"point","shape":"triangle-right","filled":true,"size":150,"color":"black","opacity":1},"encoding":{"x":{"field":"c","type":"quantitative","scale":{"domain":[0,40],"nice":false,"zero":false},"axis":null},"y":{"field":"d","type":"quantitative","scale":{"domain":[0,150],"reverse":true,"nice":false,"zero":false},"axis":{"values":[0,50,100,150],"tickSize":9,"domain":false,"labels":false,"title":null}}}}
 ],"resolve":{"scale":{"x":"independent"}}},
 {"width":242,"height":242,"layer":[
  {"data":{"name":"sg_g"},"mark":{"type":"line","color":"black","strokeWidth":1,"strokeDash":[7,4]},"encoding":{"x":{"field":"s","type":"quantitative","scale":{"domain":[23.5,26],"nice":false,"zero":false},"axis":{"orient":"top","offset":23,"values":[23.5,24,24.5,25,25.5,26],"labels":false,"tickSize":9,"domainWidth":1.5,"title":null}},"y":{"field":"d","type":"quantitative","scale":{"domain":[0,150],"reverse":true,"nice":false,"zero":false},"axis":{"values":[0,50,100,150],"tickSize":9,"domain":false,"title":null}},"order":{"value":null}}},
  {"data":{"name":"fl_g"},"mark":{"type":"line","color":"black","strokeWidth":1.4},"encoding":{"x":{"field":"f","type":"quantitative","scale":{"domain":[0,0.5],"nice":false,"zero":false},"axis":{"orient":"top","values":[0,0.1,0.2,0.3,0.4,0.5],"labels":false,"tickSize":10,"domain":false,"title":null}},"y":{"field":"d","type":"quantitative","scale":{"domain":[0,150],"reverse":true,"nice":false,"zero":false},"axis":{"values":[0,50,100,150],"tickSize":9,"domain":false,"title":null}},"order":{"value":null}}},
  {"data":{"name":"cp_g"},"mark":{"type":"point","shape":"square","filled":true,"size":110,"color":"black","opacity":1},"encoding":{"x":{"field":"c","type":"quantitative","scale":{"domain":[0,40],"nice":false,"zero":false},"axis":{"orient":"bottom","values":[0,10,20,30,40],"tickSize":10,"domain":false,"title":null}},"y":{"field":"d","type":"quantitative","scale":{"domain":[0,150],"reverse":true,"nice":false,"zero":false},"axis":{"values":[0,50,100,150],"tickSize":9,"domain":false,"title":null}}}},
  {"data":{"values":[{"c":33.4,"d":15.4,"t":"g"}]},"mark":{"type":"text","fontSize":20},"encoding":{"x":{"field":"c","type":"quantitative","scale":{"domain":[0,40],"nice":false,"zero":false},"axis":null},"y":{"field":"d","type":"quantitative","scale":{"domain":[0,150],"reverse":true,"nice":false,"zero":false},"axis":{"values":[0,50,100,150],"tickSize":9,"domain":false,"title":null}},"text":{"field":"t"}}}
 ],"resolve":{"scale":{"x":"independent"}}},
 {"width":242,"height":242,"layer":[
  {"data":{"name":"sg_h"},"mark":{"type":"line","color":"black","strokeWidth":1,"strokeDash":[7,4]},"encoding":{"x":{"field":"s","type":"quantitative","scale":{"domain":[23.5,26],"nice":false,"zero":false},"axis":{"orient":"top","offset":23,"values":[23.5,24,24.5,25,25.5,26],"labels":false,"tickSize":9,"domainWidth":1.5,"title":null}},"y":{"field":"d","type":"quantitative","scale":{"domain":[0,150],"reverse":true,"nice":false,"zero":false},"axis":{"values":[0,50,100,150],"tickSize":9,"domain":false,"labels":false,"title":null}},"order":{"value":null}}},
  {"data":{"name":"fl_h"},"mark":{"type":"line","color":"black","strokeWidth":1.4},"encoding":{"x":{"field":"f","type":"quantitative","scale":{"domain":[0,0.5],"nice":false,"zero":false},"axis":{"orient":"top","values":[0,0.1,0.2,0.3,0.4,0.5],"labels":false,"tickSize":10,"domain":false,"title":null}},"y":{"field":"d","type":"quantitative","scale":{"domain":[0,150],"reverse":true,"nice":false,"zero":false},"axis":{"values":[0,50,100,150],"tickSize":9,"domain":false,"labels":false,"title":null}},"order":{"value":null}}},
  {"data":{"name":"cp_h"},"mark":{"type":"point","shape":"square","filled":true,"size":110,"color":"black","opacity":1},"encoding":{"x":{"field":"c","type":"quantitative","scale":{"domain":[0,40],"nice":false,"zero":false},"axis":{"orient":"bottom","values":[0,10,20,30,40],"tickSize":10,"domain":false,"title":"Central capsules (x10³) m⁻³","titleBaseline":"middle","titleY":65}},"y":{"field":"d","type":"quantitative","scale":{"domain":[0,150],"reverse":true,"nice":false,"zero":false},"axis":{"values":[0,50,100,150],"tickSize":9,"domain":false,"labels":false,"title":null}}}},
  {"data":{"values":[{"c":34.3,"d":14.5,"t":"h"}]},"mark":{"type":"text","fontSize":20},"encoding":{"x":{"field":"c","type":"quantitative","scale":{"domain":[0,40],"nice":false,"zero":false},"axis":null},"y":{"field":"d","type":"quantitative","scale":{"domain":[0,150],"reverse":true,"nice":false,"zero":false},"axis":{"values":[0,50,100,150],"tickSize":9,"domain":false,"labels":false,"title":null}},"text":{"field":"t"}}}
 ],"resolve":{"scale":{"x":"independent"}}},
 {"width":242,"height":242,"layer":[
  {"data":{"name":"sg_i"},"mark":{"type":"line","color":"black","strokeWidth":1,"strokeDash":[7,4]},"encoding":{"x":{"field":"s","type":"quantitative","scale":{"domain":[23.5,26],"nice":false,"zero":false},"axis":{"orient":"top","offset":23,"values":[23.5,24,24.5,25,25.5,26],"labels":false,"tickSize":9,"domainWidth":1.5,"title":null}},"y":{"field":"d","type":"quantitative","scale":{"domain":[0,150],"reverse":true,"nice":false,"zero":false},"axis":{"values":[0,50,100,150],"tickSize":9,"domain":false,"labels":false,"title":null}},"order":{"value":null}}},
  {"data":{"name":"fl_i"},"mark":{"type":"line","color":"black","strokeWidth":1.4,"clip":true},"encoding":{"x":{"field":"f","type":"quantitative","scale":{"domain":[0,0.5],"nice":false,"zero":false},"axis":{"orient":"top","values":[0,0.1,0.2,0.3,0.4,0.5],"labels":false,"tickSize":10,"domain":false,"title":null}},"y":{"field":"d","type":"quantitative","scale":{"domain":[0,150],"reverse":true,"nice":false,"zero":false},"axis":{"values":[0,50,100,150],"tickSize":9,"domain":false,"labels":false,"title":null}},"order":{"value":null}}},
  {"data":{"name":"cp_i"},"mark":{"type":"point","shape":"square","filled":true,"size":110,"color":"black","opacity":1},"encoding":{"x":{"field":"c","type":"quantitative","scale":{"domain":[0,40],"nice":false,"zero":false},"axis":{"orient":"bottom","values":[0,10,20,30,40],"tickSize":10,"domain":false,"title":null}},"y":{"field":"d","type":"quantitative","scale":{"domain":[0,150],"reverse":true,"nice":false,"zero":false},"axis":{"values":[0,50,100,150],"tickSize":9,"domain":false,"labels":false,"title":null}}}},
  {"data":{"values":[{"c":33.4,"d":14.5,"t":"i"},{"c":33.0,"d":51.7,"t":"(0.9)"}]},"mark":{"type":"text","fontSize":20},"encoding":{"x":{"field":"c","type":"quantitative","scale":{"domain":[0,40],"nice":false,"zero":false},"axis":null},"y":{"field":"d","type":"quantitative","scale":{"domain":[0,150],"reverse":true,"nice":false,"zero":false},"axis":{"values":[0,50,100,150],"tickSize":9,"domain":false,"labels":false,"title":null}},"text":{"field":"t"},"size":{"condition":{"test":"datum.t=='i'","value":20},"value":17}}},
  {"data":{"values":[{"c":35.8,"c2":38.0,"d":51.7}]},"mark":{"type":"rule","color":"black","strokeWidth":1.2},"encoding":{"x":{"field":"c","type":"quantitative","scale":{"domain":[0,40],"nice":false,"zero":false},"axis":null},"x2":{"field":"c2"},"y":{"field":"d","type":"quantitative","scale":{"domain":[0,150],"reverse":true,"nice":false,"zero":false},"axis":{"values":[0,50,100,150],"tickSize":9,"domain":false,"labels":false,"title":null}}}},
  {"data":{"values":[{"c":38.8,"d":51.7}]},"mark":{"type":"point","shape":"triangle-right","filled":true,"size":190,"color":"black","opacity":1},"encoding":{"x":{"field":"c","type":"quantitative","scale":{"domain":[0,40],"nice":false,"zero":false},"axis":null},"y":{"field":"d","type":"quantitative","scale":{"domain":[0,150],"reverse":true,"nice":false,"zero":false},"axis":{"values":[0,50,100,150],"tickSize":9,"domain":false,"labels":false,"title":null}}}}
 ],"resolve":{"scale":{"x":"independent"}}}
]
}
